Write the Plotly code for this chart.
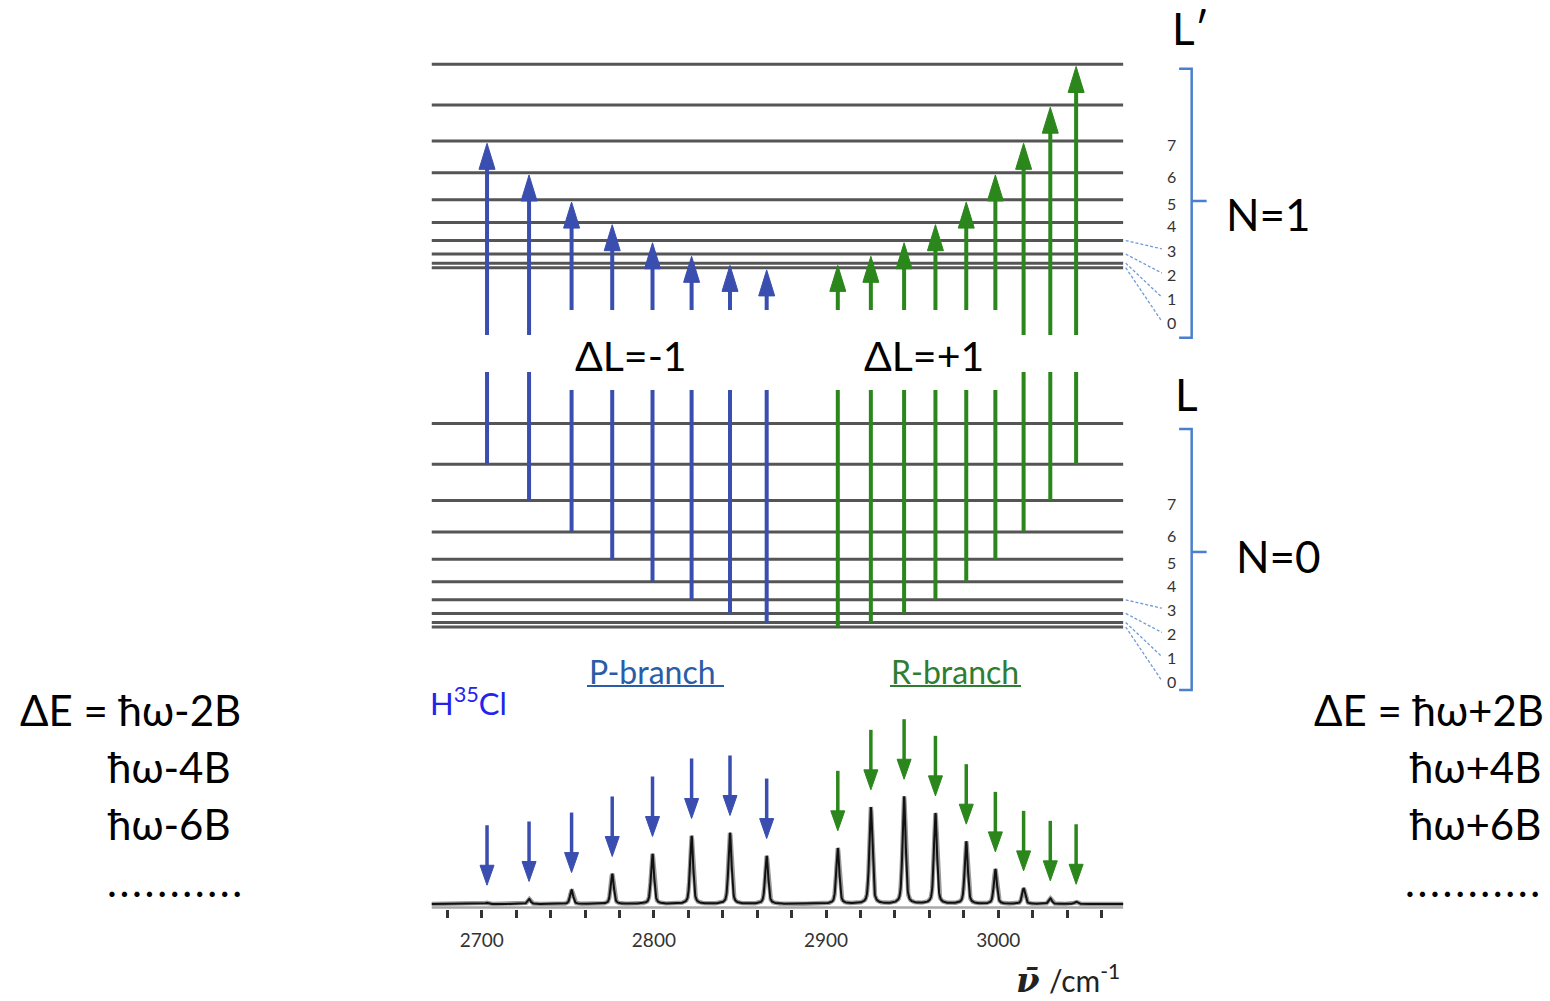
import numpy as np
import plotly.graph_objects as go

# ---------------- data ----------------
rot_L = [0, 1, 2, 3, 4, 5, 6, 7, 8, 9]
rot_E = [0, 2, 6, 12, 20, 30, 42, 56, 72, 90]          # rotational energy, units of B
label_L = [0, 1, 2, 3, 4, 5, 6, 7]

p_J = [1, 2, 3, 4, 5, 6, 7, 8]                           # lower-state L, P-branch
p_wn = [2865.5, 2844.2, 2821.9, 2799.2, 2775.8, 2752.2, 2727.5, 2703.1]
p_int = [44.7, 66.2, 63.4, 46.6, 28.0, 13.0, 4.7, 1.2]

r_J = [0, 1, 2, 3, 4, 5, 6, 7, 8]                        # lower-state L, R-branch
r_wn = [2906.8, 2926.0, 2945.3, 2963.5, 2981.4, 2998.3, 3014.7, 3030.2, 3045.2]
r_int = [51.9, 90.1, 100.0, 84.5, 58.1, 32.3, 14.6, 5.3, 2.1]

major_ticks = [2700, 2800, 2900, 3000]
major_labels = ["2700", "2800", "2900", "3000"]
minor_ticks = [2680, 2720, 2740, 2760, 2780, 2820, 2840, 2860, 2880,
               2920, 2940, 2960, 2980, 3020, 3040, 3060]

# ---------------- layout constants ----------------
W, H = 1550, 1001
FONT = "Lato"
BLUE = "#3a4eb0"
GREEN = "#2b861c"
LEVEL_COLOR = "#555555"
BRACKET = "#4a7fd0"
X_RANGE = [2420.27, 3320.39]
LEVEL_X = [2671.0, 3072.5]
UPPER_OFFSET = 159.0          # schematic spacing between N=0 and N=1 ladders

def pxx(px):
    return px / W

def pxy(py):
    return 1 - py / H

fig = go.Figure()

# ---------------- energy levels ----------------
lx, ly = [], []
for base in (0.0, UPPER_OFFSET):
    for e in rot_E:
        lx += [LEVEL_X[0], LEVEL_X[1], None]
        ly += [base + e, base + e, None]
fig.add_trace(go.Scatter(x=lx, y=ly, mode="lines", yaxis="y2",
                         line=dict(color=LEVEL_COLOR, width=3), hoverinfo="skip"))

# ---------------- transition arrows in the level diagram ----------------
HEAD_E, HW_E, TIP_E = 11.5, 4.65, 1.0

def level_arrows(wns, lower, upper, color):
    sx, sy, hx, hy = [], [], [], []
    for x, lo, up in zip(wns, lower, upper):
        tip = up - TIP_E
        sx += [x, x, None]
        sy += [lo, tip - HEAD_E * 0.6, None]
        hx += [x - HW_E, x, x + HW_E, x - HW_E, None]
        hy += [tip - HEAD_E, tip, tip - HEAD_E, tip - HEAD_E, None]
    fig.add_trace(go.Scatter(x=sx, y=sy, mode="lines", yaxis="y2",
                             line=dict(color=color, width=4), hoverinfo="skip"))
    fig.add_trace(go.Scatter(x=hx, y=hy, mode="lines", fill="toself", yaxis="y2",
                             fillcolor=color, line=dict(color=color, width=1),
                             hoverinfo="skip"))

level_arrows(p_wn, [rot_E[j] for j in p_J],
             [UPPER_OFFSET + rot_E[j - 1] for j in p_J], BLUE)
level_arrows(r_wn, [rot_E[j] for j in r_J],
             [UPPER_OFFSET + rot_E[j + 1] for j in r_J], GREEN)

# ---------------- level number labels with dashed leaders ----------------
def label_pos(base):
    pos = {}
    for L in label_L:
        if L >= 4:
            pos[L] = base + rot_E[L] - 1.5
    for L in (3, 2, 1, 0):
        pos[L] = pos[4] - (4 - L) * 10.7
    return pos

for base in (0.0, UPPER_OFFSET):
    pos = label_pos(base)
    dx, dy = [], []
    for L in label_L:
        fig.add_annotation(x=3100.3, y=pos[L], xref="x", yref="y2", text=str(L),
                           showarrow=False, font=dict(family=FONT, size=16, color="#333"),
                           xanchor="center", yanchor="middle")
        if L < 4:
            dx += [3074.0, 3095.0, None]
            dy += [base + rot_E[L], pos[L] + 0.5, None]
    fig.add_trace(go.Scatter(x=dx, y=dy, mode="lines", yaxis="y2",
                             line=dict(color="#6f9bd8", width=1.3, dash="3px,2px"),
                             hoverinfo="skip"))

# ---------------- brackets ----------------
def bracket(top, bot, mid):
    xb, xl, xr = 3112.3, 3105.0, 3121.0
    fig.add_trace(go.Scatter(x=[xl, xb, xb, xl, None, xb, xr],
                             y=[top, top, bot, bot, None, mid, mid],
                             mode="lines", yaxis="y2",
                             line=dict(color=BRACKET, width=2.5), hoverinfo="skip"))

bracket(UPPER_OFFSET + rot_E[9] - 2.0, 128.0, 188.5)
bracket(87.6, -27.9, 33.2)

# ---------------- spectrum ----------------
xs = np.linspace(LEVEL_X[0], LEVEL_X[1], 4016)
centers = np.array(p_wn + r_wn)
heights = np.array(p_int + r_int)
FWHM, ETA = 2.1, 0.45
d = (xs[:, None] - centers[None, :]) / FWHM
shape = ETA / (1 + 4 * d ** 2) + (1 - ETA) * np.exp(-4 * np.log(2) * d ** 2)
spec = (shape * heights[None, :]).sum(axis=1)

fig.add_trace(go.Scatter(x=[LEVEL_X[0], LEVEL_X[1]], y=[-3.3, -3.3], mode="lines",
                         line=dict(color="#a8a8a8", width=2.5), hoverinfo="skip"))
fig.add_trace(go.Scatter(x=xs, y=spec, mode="lines",
                         line=dict(color="#9a9a9a", width=4.4), hoverinfo="skip"))
fig.add_trace(go.Scatter(x=xs, y=spec, mode="lines",
                         line=dict(color="#111111", width=2.0), hoverinfo="skip"))

HEAD_S, HW_S, GAP_S, LEN_S = 18.6, 4.07, 16.3, 55.9

def spec_arrows(wns, ints, color):
    sx, sy, hx, hy = [], [], [], []
    for x, h in zip(wns, ints):
        tip = h + GAP_S
        sx += [x, x, None]
        sy += [tip + LEN_S, tip + HEAD_S * 0.6, None]
        hx += [x - HW_S, x, x + HW_S, x - HW_S, None]
        hy += [tip + HEAD_S, tip, tip + HEAD_S, tip + HEAD_S, None]
    fig.add_trace(go.Scatter(x=sx, y=sy, mode="lines",
                             line=dict(color=color, width=3.5), hoverinfo="skip"))
    fig.add_trace(go.Scatter(x=hx, y=hy, mode="lines", fill="toself",
                             fillcolor=color, line=dict(color=color, width=1),
                             hoverinfo="skip"))

spec_arrows(p_wn, p_int, BLUE)
spec_arrows(r_wn, r_int, GREEN)

# ---------------- white gaps through the arrows ----------------
shapes = [
    dict(type="rect", xref="x", yref="y2", x0=2676, x1=3066, y0=112.8, y1=129.2,
         fillcolor="white", line=dict(width=0), layer="above"),
    dict(type="rect", xref="x", yref="y2", x0=2742.6, x1=3005.6, y0=104.9, y1=140.3,
         fillcolor="white", line=dict(width=0), layer="above"),
    dict(type="line", xref="paper", yref="paper", x0=pxx(587), x1=pxx(724),
         y0=pxy(686), y1=pxy(686), line=dict(color="#2a5ca8", width=2)),
    dict(type="line", xref="paper", yref="paper", x0=pxx(890), x1=pxx(1021),
         y0=pxy(686), y1=pxy(686), line=dict(color="#2e7d32", width=2)),
]

# ---------------- text ----------------
def txt(x, y, s, size, color="black", xanchor="center"):
    fig.add_annotation(x=pxx(x), y=pxy(y), xref="paper", yref="paper", text=s,
                       showarrow=False, xanchor=xanchor, yanchor="middle",
                       font=dict(family=FONT, size=size, color=color))

txt(1190, 28, "L′", 44)
txt(1268, 214, "N=1", 44)
txt(1186, 394, "L", 44)
txt(1278, 556, "N=0", 44)
txt(631, 355, "ΔL=-1", 41)
txt(924, 355, "ΔL=+1", 41)
txt(652, 671, "P-branch", 32, "#2a5ca8")
txt(955, 671, "R-branch", 32, "#2e7d32")
txt(469, 701, "H<sup>35</sup>Cl", 31, "#2323ee")

dots = "\u200a".join(["."] * 11)
txt(243, 710, "ΔE = ħω-2B", 42, xanchor="right")
txt(105, 767, "ħω-4B", 42, xanchor="left")
txt(105, 824, "ħω-6B", 42, xanchor="left")
txt(105, 881, dots, 42, xanchor="left")
txt(1546, 710, "ΔE = ħω+2B", 42, xanchor="right")
txt(1543, 767, "ħω+4B", 42, xanchor="right")
txt(1543, 824, "ħω+6B", 42, xanchor="right")
txt(1542, 881, dots, 42, xanchor="right")

# axis title: nu-bar (bold italic, larger) followed by the unit
fig.add_annotation(x=pxx(1042), y=pxy(980), xref="paper", yref="paper",
                   text="<b><i>ν̄</i></b>", showarrow=False, xanchor="right",
                   yanchor="middle",
                   font=dict(family="DejaVu Serif", size=34, color="#222"))
txt(1122, 978, "/cm<sup>-1</sup>", 30, "#222", xanchor="right")

fig.update_layout(
    width=W, height=H, margin=dict(l=0, r=0, t=0, b=0),
    paper_bgcolor="white", plot_bgcolor="white", showlegend=False,
    shapes=shapes,
    xaxis=dict(domain=[0, 1], range=X_RANGE, anchor="y", showline=False,
               showgrid=False, zeroline=False, ticks="outside", ticklen=8,
               tickwidth=2.5, tickcolor="#333", tickmode="array",
               tickvals=major_ticks, ticktext=major_labels, ticklabelstandoff=6,
               tickfont=dict(family=FONT, size=19, color="#333"),
               minor=dict(tickmode="array", tickvals=minor_ticks, ticks="outside",
                          ticklen=8, tickwidth=2.5, tickcolor="#333",
                          showgrid=False)),
    yaxis=dict(domain=[0.09191, 0.30070], range=[-4.66, 190.1], visible=False),
    yaxis2=dict(domain=[0.30170, 0.96004], range=[-31.86, 259.73], visible=False,
                anchor="x"),
)

fig.write_html("out.html", config={"displayModeBar": False},
               post_script="document.body.style.margin='0px';")
